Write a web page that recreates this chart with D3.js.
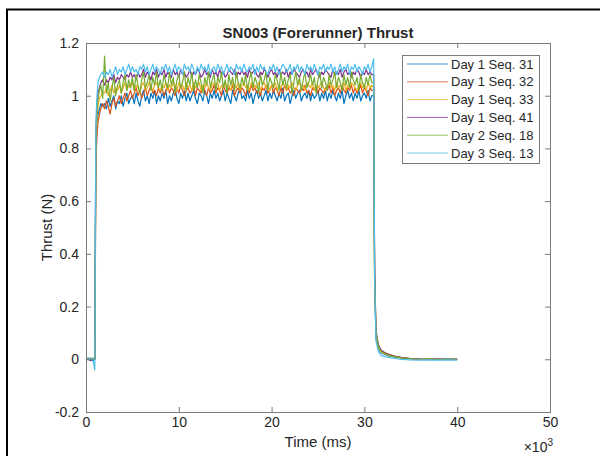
<!DOCTYPE html>
<html>
<head>
<meta charset="utf-8">
<script src="https://cdnjs.cloudflare.com/ajax/libs/d3/7.8.5/d3.min.js"></script>
<style>
  body { margin: 0; background: #fff; }
  text { font-family: "Liberation Sans", Arial, Helvetica, sans-serif; fill: #262626; }
</style>
</head>
<body>
<div id="chart"></div>
<script>
// sample times (ms)
const timeMs = [
  0, 250, 500, 750, 950,
  1000, 1050, 1100, 1200, 1300, 1450, 1600, 1800,
  2000, 2200, 2400, 2600, 2800, 3000, 3200, 3400, 3600, 3800, 4000, 4200, 4400, 4600, 4800,
  5000, 5200, 5400, 5600, 5800, 6000, 6200, 6400, 6600, 6800, 7000, 7200, 7400, 7600, 7800,
  8000, 8200, 8400, 8600, 8800, 9000, 9200, 9400, 9600, 9800, 10000, 10200, 10400, 10600, 10800,
  11000, 11200, 11400, 11600, 11800, 12000, 12200, 12400, 12600, 12800, 13000, 13200, 13400, 13600, 13800,
  14000, 14200, 14400, 14600, 14800, 15000, 15200, 15400, 15600, 15800, 16000, 16200, 16400, 16600, 16800,
  17000, 17200, 17400, 17600, 17800, 18000, 18200, 18400, 18600, 18800, 19000, 19200, 19400, 19600, 19800,
  20000, 20200, 20400, 20600, 20800, 21000, 21200, 21400, 21600, 21800, 22000, 22200, 22400, 22600, 22800,
  23000, 23200, 23400, 23600, 23800, 24000, 24200, 24400, 24600, 24800, 25000, 25200, 25400, 25600, 25800,
  26000, 26200, 26400, 26600, 26800, 27000, 27200, 27400, 27600, 27800, 28000, 28200, 28400, 28600, 28800,
  29000, 29200, 29400, 29600, 29800, 30000, 30200, 30400, 30600, 30800,
  31000, 31100, 31250, 31500, 31800, 32200, 32700, 33300, 34000, 35000, 36000, 37000, 38000, 39000, 40000
];

const seriesNames = ['Day 1 Seq. 31', 'Day 1 Seq. 32', 'Day 1 Seq. 33', 'Day 1 Seq. 41', 'Day 2 Seq. 18', 'Day 3 Seq. 13'];
const seriesColors = ['#0072BD', '#D95319', '#EDB120', '#7E2F8E', '#77AC30', '#4DBEEE'];

// thrust (N)
const day1Seq31 = [
  0.00, 0.005, 0.00, -0.005, 0.00,
  0.30, 0.70, 0.82, 0.90, 0.93, 0.95, 0.97, 0.96,
  0.97, 0.95, 0.99, 0.96, 0.98, 1.00, 0.95, 0.98, 0.97, 1.00, 0.96, 0.99, 1.01, 0.97, 0.99,
  1.00, 0.97, 1.01, 0.98, 0.96, 1.00, 1.02, 0.98, 1.00, 0.97, 1.01, 0.99, 1.02, 0.97, 1.00,
  0.98, 1.01, 0.99, 1.02, 0.97, 1.00, 0.98, 1.01, 1.03, 0.99, 0.97, 1.01, 0.99, 1.02, 0.98,
  1.01, 0.98, 1.00, 1.02, 0.99, 0.97, 1.01, 1.00, 0.98, 1.02, 1.00, 0.97, 1.01, 0.99, 1.02,
  0.99, 1.01, 0.98, 1.00, 1.02, 0.98, 1.01, 0.99, 0.97, 1.02, 1.00, 0.98, 1.01, 1.03, 0.99,
  1.00, 0.98, 1.02, 0.99, 1.01, 0.97, 1.00, 1.02, 0.99, 1.01, 0.98, 1.00, 1.02, 0.98, 1.01,
  0.99, 1.02, 1.00, 0.98, 1.01, 0.99, 1.03, 0.98, 1.00, 1.01, 0.97, 1.00, 1.02, 0.99, 1.01,
  1.02, 0.98, 1.00, 1.01, 0.99, 1.02, 0.98, 1.01, 0.99, 1.00, 1.02, 0.98, 1.01, 0.99, 1.02,
  0.98, 1.01, 0.99, 1.02, 1.00, 0.98, 1.01, 0.99, 1.02, 0.97, 1.00, 1.02, 0.99, 1.01, 0.98,
  1.01, 0.99, 1.02, 0.98, 1.00, 1.01, 0.99, 1.02, 0.98, 1.00,
  1.00, 0.28, 0.08, 0.04, 0.025, 0.018, 0.012, 0.008, 0.005, 0.002, 0.000, 0.002, -0.001, 0.001, 0.000
];
const day1Seq32 = [
  0.00, 0.00, 0.005, 0.00, 0.00,
  0.25, 0.65, 0.78, 0.86, 0.90, 0.93, 0.95, 0.97,
  0.95, 0.98, 0.96, 0.93, 0.97, 0.99, 0.96, 0.98, 1.00, 0.97, 0.99, 1.01, 0.98, 1.00, 1.02,
  0.99, 1.01, 1.03, 1.00, 1.02, 0.99, 1.01, 1.03, 1.00, 1.02, 1.04, 1.01, 1.02, 1.00, 1.03,
  1.01, 1.03, 1.00, 1.02, 1.04, 1.01, 1.03, 1.02, 1.00, 1.03, 1.01, 1.04, 1.02, 1.00, 1.02,
  1.03, 1.01, 1.02, 1.04, 1.00, 1.03, 1.02, 1.01, 1.04, 1.02, 1.00, 1.03, 1.01, 1.02, 1.04,
  1.01, 1.03, 1.02, 1.00, 1.04, 1.02, 1.01, 1.03, 1.02, 1.04, 1.00, 1.02, 1.03, 1.01, 1.03,
  1.02, 1.00, 1.03, 1.01, 1.04, 1.02, 1.03, 1.01, 1.02, 1.00, 1.03, 1.02, 1.04, 1.01, 1.02,
  1.04, 1.01, 1.03, 1.02, 1.00, 1.03, 1.01, 1.04, 1.02, 1.03, 1.01, 1.02, 1.00, 1.03, 1.02,
  1.01, 1.03, 1.02, 1.04, 1.01, 1.02, 1.00, 1.03, 1.02, 1.04, 1.01, 1.03, 1.02, 1.01, 1.03,
  1.02, 1.04, 1.01, 1.03, 1.00, 1.02, 1.03, 1.01, 1.04, 1.02, 1.01, 1.03, 1.02, 1.04, 1.01,
  1.03, 1.01, 1.02, 1.04, 1.01, 1.03, 1.02, 1.00, 1.03, 1.02,
  1.02, 0.32, 0.10, 0.05, 0.032, 0.025, 0.018, 0.012, 0.006, 0.003, 0.001, 0.000, 0.002, 0.000, 0.001
];
const day1Seq33 = [
  0.00, 0.00, 0.00, 0.005, 0.00,
  0.35, 0.74, 0.85, 0.92, 0.96, 0.99, 1.00, 1.01,
  1.01, 1.03, 1.00, 1.02, 1.04, 1.01, 1.03, 1.02, 1.04, 1.01, 1.03, 1.05, 1.02, 1.04, 1.03,
  1.05, 1.02, 1.04, 1.03, 1.01, 1.04, 1.05, 1.02, 1.03, 1.05, 1.03, 1.02, 1.04, 1.05, 1.03,
  1.02, 1.04, 1.03, 1.05, 1.02, 1.04, 1.03, 1.05, 1.04, 1.02, 1.05, 1.03, 1.04, 1.02, 1.05,
  1.03, 1.04, 1.02, 1.05, 1.03, 1.04, 1.05, 1.02, 1.04, 1.03, 1.05, 1.03, 1.02, 1.04, 1.05,
  1.03, 1.05, 1.02, 1.04, 1.03, 1.05, 1.03, 1.04, 1.02, 1.05, 1.04, 1.03, 1.05, 1.02, 1.04,
  1.05, 1.03, 1.04, 1.02, 1.05, 1.03, 1.04, 1.03, 1.05, 1.02, 1.04, 1.05, 1.03, 1.04, 1.02,
  1.04, 1.03, 1.05, 1.02, 1.04, 1.03, 1.05, 1.04, 1.02, 1.04, 1.03, 1.05, 1.03, 1.02, 1.04,
  1.05, 1.03, 1.04, 1.02, 1.05, 1.04, 1.03, 1.05, 1.02, 1.04, 1.03, 1.04, 1.05, 1.03, 1.02,
  1.04, 1.05, 1.03, 1.04, 1.02, 1.05, 1.03, 1.04, 1.03, 1.05, 1.02, 1.04, 1.03, 1.05, 1.04,
  1.03, 1.02, 1.04, 1.05, 1.03, 1.04, 1.02, 1.05, 1.03, 1.04,
  1.03, 0.30, 0.09, 0.045, 0.028, 0.020, 0.014, 0.010, 0.005, 0.002, 0.000, 0.001, 0.000, -0.001, 0.000
];
const day1Seq41 = [
  0.00, 0.00, -0.005, 0.00, 0.00,
  0.40, 0.78, 0.90, 0.97, 1.01, 1.03, 1.05, 1.06,
  1.04, 1.06, 1.05, 1.07, 1.06, 1.08, 1.05, 1.07, 1.06, 1.08, 1.07, 1.06, 1.08, 1.07, 1.09,
  1.07, 1.08, 1.06, 1.09, 1.07, 1.08, 1.10, 1.07, 1.09, 1.08, 1.06, 1.09, 1.08, 1.10, 1.07,
  1.09, 1.08, 1.10, 1.07, 1.09, 1.08, 1.07, 1.10, 1.08, 1.09, 1.07, 1.10, 1.08, 1.09, 1.07,
  1.08, 1.10, 1.07, 1.09, 1.08, 1.10, 1.09, 1.07, 1.08, 1.10, 1.08, 1.09, 1.07, 1.10, 1.08,
  1.09, 1.07, 1.10, 1.08, 1.09, 1.07, 1.08, 1.10, 1.09, 1.08, 1.10, 1.07, 1.09, 1.08, 1.10,
  1.08, 1.09, 1.07, 1.10, 1.08, 1.09, 1.10, 1.08, 1.07, 1.09, 1.08, 1.10, 1.09, 1.07, 1.09,
  1.10, 1.08, 1.09, 1.07, 1.10, 1.08, 1.09, 1.08, 1.10, 1.07, 1.09, 1.08, 1.10, 1.09, 1.08,
  1.07, 1.09, 1.10, 1.08, 1.09, 1.07, 1.10, 1.08, 1.09, 1.10, 1.08, 1.07, 1.09, 1.08, 1.10,
  1.09, 1.08, 1.07, 1.10, 1.08, 1.09, 1.08, 1.10, 1.07, 1.09, 1.10, 1.08, 1.09, 1.07, 1.09,
  1.08, 1.10, 1.09, 1.07, 1.09, 1.08, 1.10, 1.08, 1.09, 1.08,
  1.08, 0.35, 0.11, 0.055, 0.035, 0.025, 0.017, 0.011, 0.006, 0.003, 0.001, 0.000, 0.001, 0.000, 0.000
];
const day2Seq18 = [
  0.00, 0.00, 0.00, 0.005, 0.00,
  0.38, 0.76, 0.88, 0.95, 0.99, 1.02, 1.04, 0.99,
  1.15, 1.01, 1.05, 0.98, 1.03, 1.07, 1.00, 1.04, 1.06, 1.01, 1.05, 1.08, 1.02, 1.06, 1.03,
  1.07, 1.02, 1.08, 1.04, 1.01, 1.06, 1.09, 1.03, 1.05, 1.08, 1.02, 1.07, 1.04, 1.09, 1.03,
  1.06, 1.02, 1.08, 1.05, 1.03, 1.09, 1.04, 1.07, 1.01, 1.06, 1.08, 1.03, 1.05, 1.09, 1.02,
  1.07, 1.04, 1.09, 1.02, 1.06, 1.03, 1.08, 1.05, 1.01, 1.07, 1.04, 1.09, 1.03, 1.06, 1.08,
  1.02, 1.07, 1.05, 1.09, 1.03, 1.06, 1.01, 1.08, 1.04, 1.07, 1.02, 1.09, 1.05, 1.03, 1.07,
  1.04, 1.08, 1.02, 1.06, 1.09, 1.03, 1.07, 1.05, 1.01, 1.08, 1.04, 1.06, 1.09, 1.02, 1.07,
  1.05, 1.03, 1.08, 1.06, 1.02, 1.09, 1.04, 1.07, 1.03, 1.06, 1.08, 1.01, 1.05, 1.09, 1.04,
  1.07, 1.02, 1.06, 1.09, 1.03, 1.05, 1.08, 1.04, 1.07, 1.01, 1.06, 1.09, 1.03, 1.07, 1.05,
  1.02, 1.08, 1.04, 1.06, 1.09, 1.03, 1.07, 1.05, 1.02, 1.08, 1.04, 1.07, 1.03, 1.09, 1.06,
  1.04, 1.07, 1.02, 1.08, 1.05, 1.03, 1.07, 1.04, 1.08, 1.05,
  1.05, 0.33, 0.10, 0.05, 0.030, 0.022, 0.015, 0.010, 0.005, 0.002, 0.000, 0.001, 0.000, 0.001, 0.000
];
const day3Seq13 = [
  0.00, 0.00, 0.005, 0.00, -0.04,
  0.45, 0.80, 0.93, 1.01, 1.05, 1.07, 1.08, 1.09,
  1.07, 1.09, 1.08, 1.10, 1.07, 1.09, 1.11, 1.08, 1.10, 1.09, 1.11, 1.08, 1.10, 1.12, 1.09,
  1.11, 1.09, 1.10, 1.08, 1.11, 1.10, 1.12, 1.09, 1.11, 1.08, 1.10, 1.12, 1.09, 1.11, 1.10,
  1.08, 1.11, 1.10, 1.12, 1.09, 1.11, 1.08, 1.10, 1.12, 1.09, 1.11, 1.10, 1.08, 1.12, 1.10,
  1.11, 1.09, 1.12, 1.10, 1.08, 1.11, 1.09, 1.12, 1.10, 1.11, 1.09, 1.12, 1.08, 1.10, 1.11,
  1.09, 1.12, 1.10, 1.11, 1.08, 1.10, 1.12, 1.09, 1.11, 1.10, 1.08, 1.12, 1.10, 1.11, 1.09,
  1.12, 1.10, 1.09, 1.11, 1.10, 1.12, 1.08, 1.11, 1.09, 1.12, 1.10, 1.11, 1.09, 1.08, 1.11,
  1.10, 1.12, 1.09, 1.11, 1.08, 1.10, 1.12, 1.11, 1.09, 1.10, 1.12, 1.08, 1.11, 1.10, 1.12,
  1.09, 1.11, 1.10, 1.08, 1.12, 1.10, 1.11, 1.09, 1.12, 1.10, 1.08, 1.11, 1.10, 1.12, 1.09,
  1.11, 1.10, 1.12, 1.09, 1.11, 1.08, 1.10, 1.12, 1.09, 1.11, 1.10, 1.12, 1.08, 1.11, 1.10,
  1.12, 1.09, 1.11, 1.10, 1.08, 1.11, 1.10, 1.12, 1.09, 1.11,
  1.14, 0.30, 0.07, 0.03, 0.015, 0.010, 0.006, 0.003, 0.000, -0.002, -0.003, -0.002, -0.003, -0.002, -0.003
];

const seriesValues = [day1Seq31, day1Seq32, day1Seq33, day1Seq41, day2Seq18, day3Seq13];

const xTicks = [0, 10000, 20000, 30000, 40000, 50000];
const yTicks = [-0.2, 0, 0.2, 0.4, 0.6, 0.8, 1, 1.2];

// Size of the svg area and the plot box
const w = 600;
const h = 456;
const box = { left: 86, right: 550, top: 43, bottom: 412 };

const svg = d3.select('#chart')
  .append('svg')
  .attr('width', w)
  .attr('height', h);

// outer figure frame
svg.append('path')
  .attr('d', `M7,${h} L7,9.5 L${w},9.5`)
  .attr('fill', 'none')
  .attr('stroke', '#000')
  .attr('stroke-width', 2);

// Scales
const xScale = d3.scaleLinear().domain([0, 50000]).range([box.left, box.right]);
const yScale = d3.scaleLinear().domain([-0.2, 1.2]).range([box.bottom, box.top]);

// Draw lines
const line = d3.line()
  .x((d, i) => xScale(timeMs[i]))
  .y((d) => yScale(d));

svg.append('g')
  .selectAll('path')
  .data(seriesValues)
  .enter()
  .append('path')
  .attr('d', (d) => line(d))
  .attr('fill', 'none')
  .attr('stroke', (d, i) => seriesColors[i])
  .attr('stroke-width', 1.2)
  .attr('stroke-linejoin', 'round');

// Axes, MATLAB style: ticks pointing in, on all four sides
const axisColor = '#7a7a7a';
const xFmt = (d) => d3.format('d')(d / 1000);
const yFmt = (d) => d3.format('~g')(d).replace('\u2212', '-');

const xAxis = d3.axisBottom(xScale).tickValues(xTicks).tickFormat(xFmt)
  .tickSizeInner(-5).tickSizeOuter(0).tickPadding(5);
const yAxis = d3.axisLeft(yScale).tickValues(yTicks).tickFormat(yFmt)
  .tickSizeInner(-5).tickSizeOuter(0).tickPadding(7);
const xTop = d3.axisTop(xScale).tickValues(xTicks).tickFormat('').tickSizeInner(-5).tickSizeOuter(0);
const yRight = d3.axisRight(yScale).tickValues(yTicks).tickFormat('').tickSizeInner(-5).tickSizeOuter(0);

const gx = svg.append('g').attr('transform', `translate(0,${box.bottom})`).call(xAxis);
const gy = svg.append('g').attr('transform', `translate(${box.left},0)`).call(yAxis);
const gt = svg.append('g').attr('transform', `translate(0,${box.top})`).call(xTop);
const gr = svg.append('g').attr('transform', `translate(${box.right},0)`).call(yRight);

[gx, gy, gt, gr].forEach((g) => {
  g.select('.domain').remove();
  g.selectAll('line').attr('stroke', axisColor);
  g.selectAll('text').attr('font-size', 14).attr('fill', '#262626')
    .attr('font-family', '"Liberation Sans", Arial, sans-serif');
});
// end ticks sit on the box edges
gx.selectAll('.tick line').filter((d) => d === 0 || d === 50000).remove();
gt.selectAll('.tick line').filter((d) => d === 0 || d === 50000).remove();
gy.selectAll('.tick line').filter((d) => d === -0.2 || d === 1.2).remove();
gr.selectAll('.tick line').filter((d) => d === -0.2 || d === 1.2).remove();

// box
svg.append('rect')
  .attr('x', box.left + 0.5).attr('y', box.top + 0.5)
  .attr('width', box.right - box.left).attr('height', box.bottom - box.top)
  .attr('fill', 'none')
  .attr('stroke', axisColor)
  .attr('stroke-width', 1);

// Title and labels
svg.append('text')
  .attr('x', (box.left + box.right) / 2).attr('y', 38)
  .attr('text-anchor', 'middle')
  .attr('font-size', 15).attr('font-weight', 'bold')
  .text('SN003 (Forerunner) Thrust');

svg.append('text')
  .attr('x', (box.left + box.right) / 2).attr('y', 447)
  .attr('text-anchor', 'middle')
  .attr('font-size', 15)
  .text('Time (ms)');

svg.append('text')
  .attr('transform', `translate(52,${(box.top + box.bottom) / 2}) rotate(-90)`)
  .attr('text-anchor', 'middle')
  .attr('font-size', 15)
  .text('Thrust (N)');

const expo = svg.append('text')
  .attr('x', 553).attr('y', 452)
  .attr('text-anchor', 'end')
  .attr('font-size', 14);
expo.append('tspan').text('\u00d710');
expo.append('tspan').attr('dy', -6).attr('font-size', 10).text('3');

// Legend
const legend = svg.append('g');
legend.append('rect')
  .attr('x', 402.5).attr('y', 55.5)
  .attr('width', 137).attr('height', 108)
  .attr('fill', '#fff')
  .attr('stroke', axisColor);

const rows = legend.selectAll('g.row')
  .data(seriesNames)
  .enter()
  .append('g')
  .attr('class', 'row')
  .attr('transform', (d, i) => `translate(0,${64 + i * 17.8})`);

rows.append('line')
  .attr('x1', 407).attr('x2', 448)
  .attr('y1', 0).attr('y2', 0)
  .attr('stroke', (d, i) => seriesColors[i])
  .attr('stroke-width', 1)
  .attr('opacity', 0.75);

rows.append('text')
  .attr('x', 451).attr('y', 0)
  .attr('dy', '0.36em')
  .attr('font-size', 13)
  .text((d) => d);
</script>
</body>
</html>
